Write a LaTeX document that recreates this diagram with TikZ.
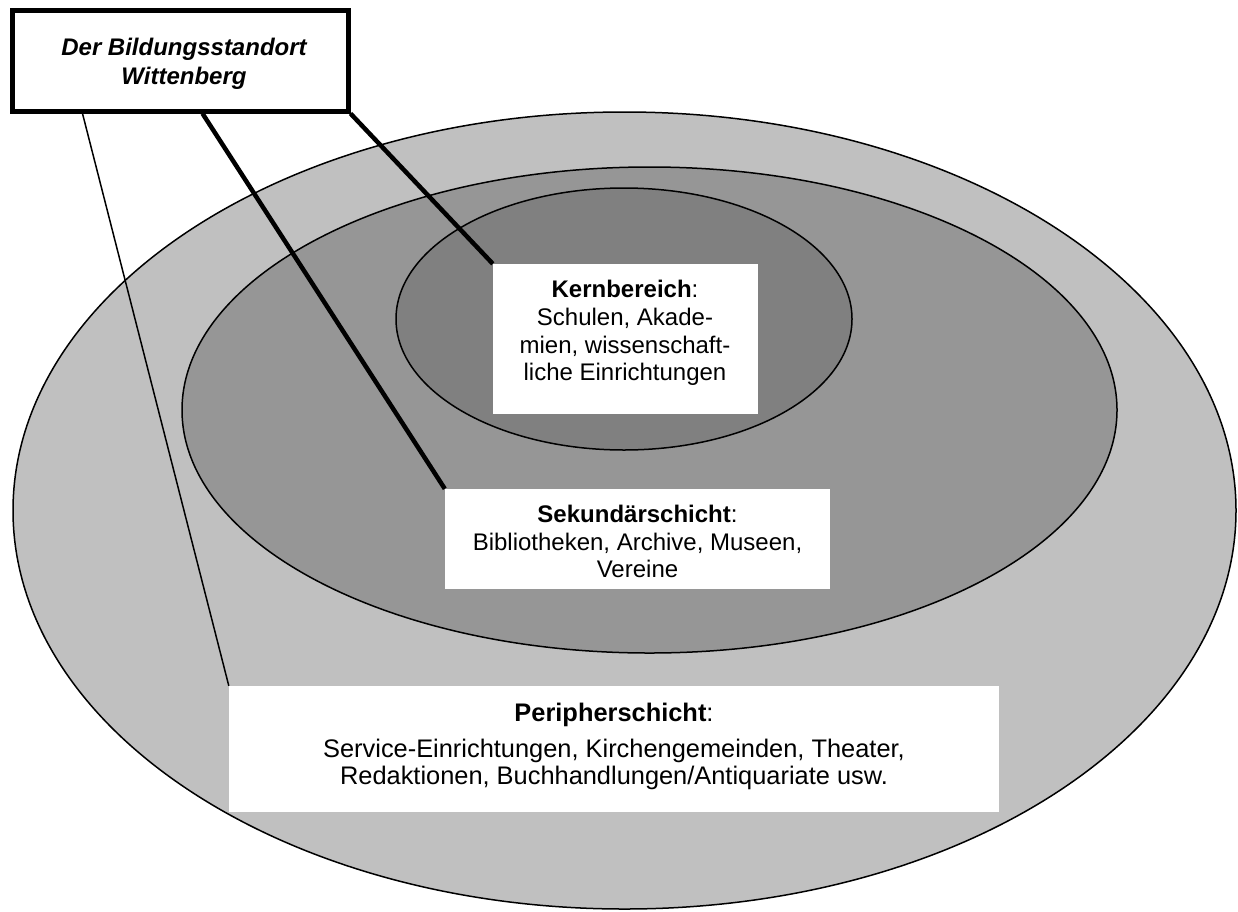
\documentclass[tikz,border=0pt]{standalone}
\usepackage{fontspec}
\setmainfont{Liberation Sans}
\definecolor{outerc}{RGB}{192,192,192}
\definecolor{midc}{RGB}{150,150,150}
\definecolor{innerc}{RGB}{128,128,128}
\pgfdeclarelayer{back}
\pgfdeclarelayer{mid}
\pgfsetlayers{back,mid,main}
\begin{document}
\begin{tikzpicture}[x=1pt,y=-1pt,
  ring/.style={draw=black, line width=1.5pt},
  whitebox/.style={rectangle, fill=white, draw=none, inner sep=0pt},
  lbl/.style={align=center, inner sep=0pt, font=\fontsize{24}{27.8}\selectfont},
  thickline/.style={line width=4.5pt},
  thinline/.style={line width=1.5pt}]
\useasboundingbox (0,0) rectangle (1238,911);
\begin{pgfonlayer}{back}
\fill[white] (0,0) rectangle (1238,911);
\draw[ring, fill=outerc] (624.5,510.5) ellipse [x radius=611.5pt, y radius=398.5pt];
\draw[ring, fill=midc] (649.5,410) ellipse [x radius=467.5pt, y radius=243pt];
\draw[ring, fill=innerc] (624,319) ellipse [x radius=228pt, y radius=131pt];
\end{pgfonlayer}

% boxes
\node[whitebox, draw=black, line width=5pt, minimum width=336pt, minimum height=101pt] (titlebox) at (180,60.5) {};
\node[lbl, font=\fontsize{24}{28.8}\selectfont\bfseries\itshape] (title) at (184,64) {Der Bildungsstandort\\Wittenberg};

\node[whitebox, minimum width=265pt, minimum height=150pt] (kernbox) at (625.5,339) {};
\node[lbl] (kern) at (625,333) {\textbf{Kernbereich}:\\Schulen, Akade-\\mien, wissenschaft-\\liche Einrichtungen};

\node[whitebox, minimum width=385pt, minimum height=100pt] (sekbox) at (637.5,539) {};
\node[lbl] (sek) at (637.5,541.5) {\textbf{Sekundärschicht}:\\Bibliotheken, Archive, Museen,\\Vereine};

\node[whitebox, minimum width=770pt, minimum height=126pt] (peribox) at (614,749) {};
\node[lbl, font=\fontsize{25.4}{27}\selectfont] (peri) at (614,746) {\textbf{Peripherschicht}:\\[9pt]Service-Einrichtungen, Kirchengemeinden, Theater,\\Redaktionen, Buchhandlungen/Antiquariate usw.};

% connectors
\begin{pgfonlayer}{mid}
\draw[thinline] ([xshift=73pt]titlebox.south west) -- (peribox.north west);
\draw[thickline] ([xshift=193pt]titlebox.south west) -- (sekbox.north west);
\draw[thickline] (titlebox.south east) -- (kernbox.north west);
\end{pgfonlayer}
\end{tikzpicture}
\end{document}
